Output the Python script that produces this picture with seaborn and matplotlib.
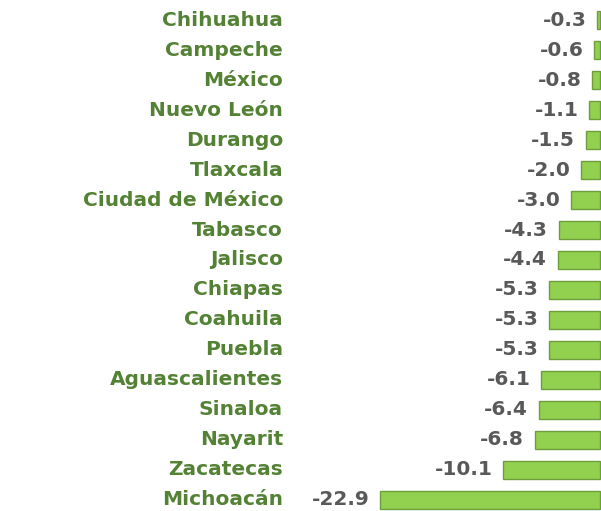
import matplotlib
matplotlib.use("Agg")
import matplotlib.pyplot as plt
import matplotlib.transforms as mtransforms
import pandas as pd
import seaborn as sns

# values
states = ["Chihuahua", "Campeche", "México", "Nuevo León", "Durango", "Tlaxcala",
          "Ciudad de México", "Tabasco", "Jalisco", "Chiapas", "Coahuila", "Puebla",
          "Aguascalientes", "Sinaloa", "Nayarit", "Zacatecas", "Michoacán"]
values = [-0.3, -0.6, -0.8, -1.1, -1.5, -2.0, -3.0, -4.3, -4.4, -5.3, -5.3, -5.3,
          -6.1, -6.4, -6.8, -10.1, -22.9]

data = pd.DataFrame({"estado": states, "valor": values})

sns.set_style("white")
plt.rcParams["font.family"] = ["DejaVu Sans"]

fig = plt.figure(figsize=(6.01, 5.11), dpi=100)
ax = fig.add_axes([0, 0, 1, 1])

sns.barplot(data=data, x="valor", y="estado", orient="h", color="#92D050",
            edgecolor="#6E9E3A", linewidth=1.0, width=0.6, saturation=1, ax=ax)

ax.set_xlim(-62.5, 0.1)
ax.set_ylim(16.37, -0.67)
ax.axis("off")

# state names on the left, values next to each bar
trans = mtransforms.blended_transform_factory(ax.transAxes, ax.transData)
for i, (s, v) in enumerate(zip(states, values)):
    ax.text(0.471, i, s, transform=trans, ha="right", va="center",
            fontsize=14.5, fontweight="bold", color="#548235")
    ax.text(v - 1.1, i, f"{v:.1f}", ha="right", va="center",
            fontsize=14.5, fontweight="bold", color="#595959")

plt.savefig("out.png", dpi=100)
